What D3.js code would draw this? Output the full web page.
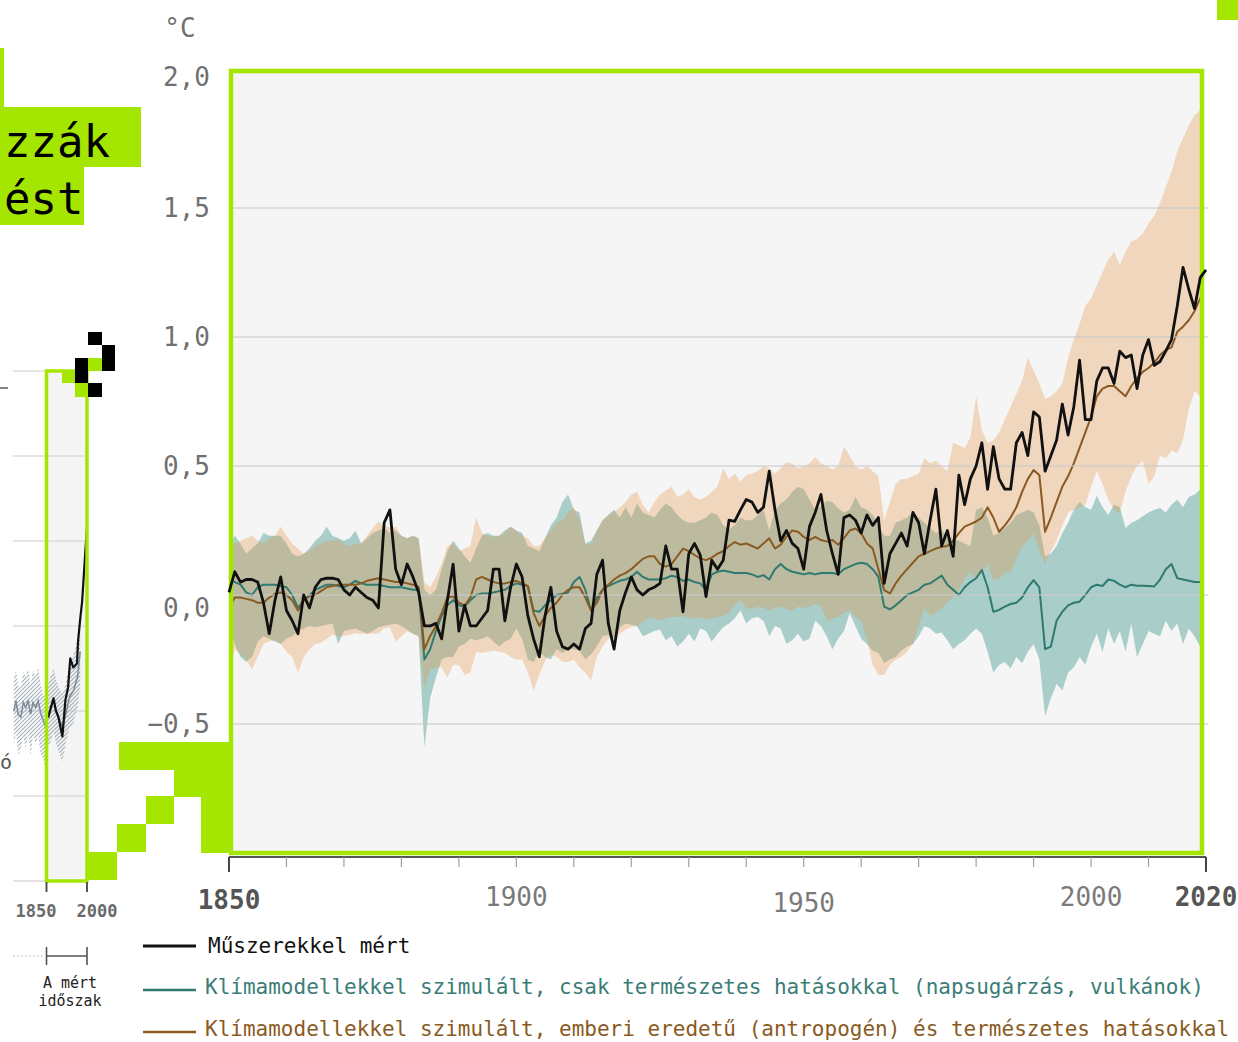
<!DOCTYPE html>
<html><head><meta charset="utf-8">
<script src="https://cdn.jsdelivr.net/npm/d3@7"></script>
<style>
html,body{margin:0;padding:0;background:#fff;}
svg{display:block;font-family:"DejaVu Sans Mono",monospace;}
</style></head><body>
<svg id="chart" width="1238" height="1042"></svg>
<script>
// ---------------- DATA ----------------
const years = d3.range(1850, 2021);

const observed = [
 0.01,0.09,0.05,0.06,0.06,0.05,-0.03,-0.15,-0.02,0.07,
 -0.06,-0.10,-0.15,0.00,-0.05,0.03,0.06,0.065,0.065,0.06,
 0.02,0.00,0.03,0.01,-0.01,-0.02,-0.05,0.28,0.33,0.10,
 0.04,0.12,0.07,0.01,-0.12,-0.12,-0.11,-0.17,-0.02,0.12,
 -0.14,-0.04,-0.12,-0.12,-0.09,-0.06,0.10,0.10,-0.10,0.03,
 0.12,0.07,-0.08,-0.17,-0.24,-0.08,0.03,-0.14,-0.20,-0.21,
 -0.19,-0.21,-0.13,-0.11,0.08,0.135,-0.11,-0.21,-0.06,0.01,
 0.07,0.02,0.00,0.02,0.03,0.045,0.19,0.10,0.10,-0.065,
 0.16,0.20,0.155,-0.006,0.135,0.10,0.135,0.29,0.285,0.33,
 0.37,0.36,0.32,0.34,0.48,0.33,0.21,0.25,0.20,0.18,
 0.10,0.265,0.32,0.39,0.25,0.16,0.08,0.30,0.31,0.29,
 0.24,0.31,0.27,0.30,0.045,0.16,0.20,0.24,0.19,0.32,
 0.28,0.16,0.29,0.41,0.19,0.25,0.15,0.465,0.35,0.45,
 0.50,0.59,0.41,0.575,0.45,0.41,0.41,0.59,0.63,0.54,
 0.71,0.69,0.48,0.54,0.60,0.74,0.62,0.73,0.91,0.68,
 0.68,0.83,0.88,0.88,0.82,0.945,0.92,0.93,0.80,0.93,
 0.99,0.89,0.905,0.945,0.99,1.12,1.27,1.185,1.11,1.23,
 1.26];

const naturalMean = [
 0.06,0.05,0.04,0.01,0.0,0.03,0.04,0.04,0.04,0.035,
 0.03,0.0,-0.05,-0.02,0.0,0.02,0.03,0.04,0.04,0.035,
 0.03,0.04,0.055,0.045,0.04,0.04,0.04,0.035,0.03,0.03,
 0.03,0.025,0.02,0.02,-0.25,-0.21,-0.14,-0.08,-0.04,-0.02,
 -0.04,-0.045,-0.02,0.0,0.006,0.006,0.01,0.015,0.02,0.035,
 0.045,0.04,0.035,-0.06,-0.065,-0.04,-0.02,0.0,0.005,0.01,
 0.05,0.07,0.02,-0.06,-0.01,0.02,0.035,0.045,0.055,0.06,
 0.07,0.09,0.07,0.06,0.06,0.06,0.065,0.075,0.07,0.055,
 0.06,0.05,0.045,0.02,0.08,0.09,0.095,0.09,0.085,0.085,
 0.085,0.08,0.07,0.077,0.06,0.10,0.12,0.10,0.09,0.085,
 0.08,0.085,0.08,0.085,0.085,0.085,0.08,0.10,0.11,0.12,
 0.125,0.12,0.10,0.07,-0.045,-0.056,-0.04,-0.02,0.0,0.01,
 0.02,0.04,0.045,0.06,0.075,0.04,0.02,0.0,0.03,0.05,
 0.065,0.097,0.03,-0.065,-0.058,-0.045,-0.035,-0.03,-0.01,0.03,
 0.058,0.03,-0.21,-0.20,-0.10,-0.065,-0.04,-0.03,-0.026,0.0,
 0.03,0.04,0.035,0.06,0.055,0.04,0.03,0.04,0.036,0.036,
 0.035,0.033,0.06,0.10,0.12,0.065,0.06,0.055,0.05,0.05,
 0.055];

const naturalLow = [
 -0.12,-0.19,-0.24,-0.26,-0.24,-0.18,-0.16,-0.17,-0.18,-0.19,
 -0.17,-0.16,-0.14,-0.13,-0.12,-0.125,-0.12,-0.115,-0.11,-0.19,
 -0.14,-0.135,-0.13,-0.14,-0.15,-0.14,-0.125,-0.12,-0.115,-0.11,
 -0.12,-0.135,-0.15,-0.16,-0.59,-0.40,-0.32,-0.25,-0.24,-0.24,
 -0.20,-0.19,-0.17,-0.175,-0.17,-0.16,-0.18,-0.20,-0.18,-0.17,
 -0.13,-0.17,-0.25,-0.26,-0.22,-0.24,-0.25,-0.21,-0.225,-0.21,
 -0.21,-0.215,-0.25,-0.23,-0.20,-0.16,-0.155,-0.17,-0.125,-0.11,
 -0.115,-0.12,-0.16,-0.15,-0.14,-0.135,-0.175,-0.16,-0.20,-0.18,
 -0.15,-0.18,-0.13,-0.14,-0.18,-0.15,-0.125,-0.11,-0.09,-0.06,
 -0.11,-0.09,-0.085,-0.10,-0.16,-0.12,-0.13,-0.19,-0.175,-0.15,
 -0.18,-0.17,-0.10,-0.12,-0.16,-0.21,-0.17,-0.14,-0.07,-0.12,
 -0.17,-0.19,-0.215,-0.225,-0.265,-0.25,-0.24,-0.215,-0.20,-0.19,
 -0.16,-0.12,-0.13,-0.15,-0.145,-0.175,-0.21,-0.19,-0.175,-0.15,
 -0.13,-0.15,-0.22,-0.30,-0.27,-0.26,-0.285,-0.24,-0.265,-0.22,
 -0.19,-0.25,-0.47,-0.40,-0.345,-0.37,-0.30,-0.28,-0.24,-0.27,
 -0.20,-0.15,-0.22,-0.13,-0.19,-0.14,-0.22,-0.11,-0.24,-0.19,
 -0.14,-0.15,-0.16,-0.10,-0.14,-0.11,-0.19,-0.13,-0.16,-0.20,
 -0.13];

const naturalHigh = [
 0.19,0.23,0.20,0.16,0.18,0.20,0.24,0.23,0.23,0.23,
 0.20,0.16,0.15,0.16,0.18,0.21,0.23,0.265,0.23,0.22,
 0.21,0.22,0.25,0.20,0.22,0.24,0.25,0.26,0.24,0.25,
 0.23,0.22,0.23,0.22,0.02,0.0,0.02,0.10,0.17,0.21,
 0.18,0.15,0.125,0.18,0.23,0.24,0.23,0.23,0.25,0.265,
 0.25,0.24,0.19,0.18,0.17,0.22,0.27,0.30,0.36,0.39,
 0.33,0.32,0.20,0.21,0.25,0.29,0.31,0.33,0.30,0.34,
 0.30,0.355,0.32,0.31,0.30,0.33,0.355,0.34,0.31,0.29,
 0.28,0.28,0.29,0.30,0.32,0.31,0.27,0.255,0.27,0.30,
 0.29,0.29,0.31,0.33,0.25,0.33,0.355,0.37,0.40,0.42,
 0.41,0.37,0.33,0.345,0.365,0.36,0.335,0.32,0.33,0.38,
 0.34,0.33,0.31,0.27,0.23,0.23,0.28,0.29,0.30,0.32,
 0.30,0.28,0.26,0.24,0.25,0.23,0.22,0.21,0.20,0.19,
 0.33,0.34,0.30,0.23,0.24,0.26,0.28,0.31,0.32,0.33,
 0.32,0.27,0.15,0.16,0.19,0.24,0.28,0.33,0.36,0.34,
 0.33,0.385,0.34,0.31,0.35,0.34,0.26,0.28,0.29,0.305,
 0.32,0.33,0.337,0.32,0.35,0.37,0.34,0.38,0.39,0.41,
 0.37];

const humanMean = [
 -0.05,-0.01,-0.01,-0.015,-0.02,-0.03,-0.03,-0.01,0.005,0.01,
 0.0,-0.02,-0.06,-0.02,-0.005,0.0,0.015,0.03,0.035,0.04,
 0.04,0.04,0.04,0.045,0.055,0.06,0.065,0.06,0.055,0.05,
 0.05,0.045,0.04,0.03,-0.21,-0.16,-0.12,-0.07,-0.01,-0.005,
 -0.03,-0.04,-0.01,0.06,0.07,0.06,0.05,0.045,0.045,0.05,
 0.055,0.045,0.035,-0.07,-0.12,-0.08,-0.05,-0.03,0.0,0.02,
 0.03,0.03,-0.01,-0.06,-0.03,0.02,0.04,0.06,0.075,0.085,
 0.10,0.12,0.14,0.15,0.15,0.12,0.11,0.12,0.15,0.18,
 0.17,0.155,0.142,0.135,0.145,0.16,0.17,0.19,0.205,0.195,
 0.20,0.19,0.18,0.20,0.22,0.18,0.195,0.226,0.25,0.245,
 0.225,0.213,0.225,0.213,0.207,0.213,0.195,0.22,0.25,0.258,
 0.24,0.20,0.18,0.10,0.019,0.006,0.045,0.075,0.10,0.125,
 0.15,0.16,0.17,0.18,0.187,0.19,0.21,0.24,0.265,0.275,
 0.285,0.30,0.34,0.30,0.245,0.27,0.30,0.34,0.40,0.45,
 0.484,0.465,0.245,0.30,0.36,0.42,0.46,0.51,0.57,0.63,
 0.69,0.77,0.80,0.81,0.81,0.79,0.77,0.81,0.84,0.865,
 0.88,0.90,0.93,0.95,0.96,1.02,1.04,1.065,1.10,1.15,
 1.19];

const humanLow = [
 -0.29,-0.21,-0.23,-0.25,-0.29,-0.24,-0.19,-0.18,-0.175,-0.19,
 -0.22,-0.24,-0.30,-0.24,-0.21,-0.19,-0.185,-0.17,-0.155,-0.16,
 -0.16,-0.155,-0.148,-0.15,-0.15,-0.15,-0.148,-0.13,-0.125,-0.18,
 -0.16,-0.14,-0.15,-0.16,-0.36,-0.29,-0.28,-0.28,-0.32,-0.27,
 -0.27,-0.31,-0.30,-0.22,-0.225,-0.22,-0.215,-0.22,-0.225,-0.24,
 -0.25,-0.25,-0.30,-0.37,-0.31,-0.255,-0.23,-0.24,-0.26,-0.26,
 -0.25,-0.28,-0.30,-0.33,-0.24,-0.20,-0.17,-0.16,-0.15,-0.135,
 -0.125,-0.12,-0.105,-0.09,-0.09,-0.10,-0.09,-0.085,-0.085,-0.08,
 -0.09,-0.09,-0.085,-0.095,-0.09,-0.085,-0.08,-0.07,-0.04,-0.02,
 -0.05,-0.055,-0.045,-0.05,-0.06,-0.05,-0.045,-0.055,-0.06,-0.045,
 -0.05,-0.045,-0.035,-0.04,-0.10,-0.09,-0.085,-0.07,-0.06,-0.085,
 -0.10,-0.17,-0.27,-0.31,-0.31,-0.27,-0.25,-0.24,-0.22,-0.19,
 -0.12,-0.05,-0.08,-0.07,-0.05,-0.03,-0.006,0.02,0.06,0.09,
 0.06,0.09,0.12,0.06,0.06,0.09,0.085,0.14,0.19,0.21,
 0.24,0.17,0.12,0.17,0.21,0.27,0.32,0.33,0.34,0.35,
 0.42,0.48,0.43,0.37,0.33,0.32,0.40,0.46,0.50,0.52,
 0.43,0.46,0.54,0.53,0.56,0.55,0.60,0.72,0.79,0.77,
 0.78];

const humanHigh = [
 0.17,0.20,0.21,0.22,0.23,0.21,0.20,0.22,0.23,0.265,
 0.23,0.20,0.18,0.16,0.17,0.19,0.20,0.21,0.21,0.215,
 0.20,0.19,0.20,0.20,0.23,0.26,0.285,0.27,0.26,0.265,
 0.23,0.22,0.23,0.22,0.05,0.03,0.07,0.12,0.19,0.20,
 0.17,0.18,0.19,0.30,0.24,0.23,0.225,0.23,0.24,0.265,
 0.25,0.23,0.22,0.19,0.19,0.22,0.25,0.28,0.29,0.32,
 0.34,0.29,0.20,0.195,0.25,0.29,0.31,0.32,0.34,0.36,
 0.39,0.40,0.35,0.32,0.36,0.39,0.405,0.42,0.38,0.39,
 0.41,0.38,0.37,0.38,0.40,0.42,0.49,0.45,0.47,0.44,
 0.465,0.47,0.48,0.50,0.49,0.47,0.49,0.515,0.51,0.49,
 0.50,0.51,0.535,0.51,0.50,0.485,0.50,0.575,0.54,0.50,
 0.485,0.50,0.48,0.46,0.29,0.36,0.43,0.45,0.45,0.46,
 0.47,0.53,0.51,0.52,0.50,0.48,0.59,0.58,0.57,0.61,
 0.77,0.64,0.59,0.60,0.63,0.68,0.73,0.78,0.83,0.92,
 0.87,0.82,0.76,0.77,0.79,0.82,0.92,0.99,1.05,1.12,
 1.15,1.20,1.25,1.30,1.33,1.28,1.33,1.37,1.38,1.40,
 1.44,1.47,1.52,1.58,1.64,1.72,1.77,1.82,1.86,1.88,
 1.90];

const yTickValues = [-0.5, 0, 0.5, 1, 1.5, 2];
const xTickYears = d3.range(1850, 2021, 10);
const xLabelYears = [1850, 1900, 1950, 2000, 2020];
const unitLabel = "°C";

const legendLabels = [
  "Műszerekkel mért",
  "Klímamodellekkel szimulált, csak természetes hatásokkal (napsugárzás, vulkánok)",
  "Klímamodellekkel szimulált, emberi eredetű (antropogén) és természetes hatásokkal"
];

// left (cropped) overview panel
const leftPaleoYears = [1729,1737,1745,1755,1764,1773,1782,1791,1800,1810,1819,1828,1837,1846,1855,1865,1876,1890,1900,1909,1920,1935,1950,1965,1975];
const leftPaleoMean  = [0.0,0.06,-0.02,-0.035,0.05,0.02,0.06,-0.02,0.05,0.02,0.06,-0.01,-0.05,-0.09,-0.02,0.01,0.06,-0.02,-0.06,-0.09,-0.03,0.08,0.12,0.2,0.35];
const leftPaleoLow   = [-0.2,-0.12,-0.26,-0.22,-0.15,-0.22,-0.13,-0.27,-0.14,-0.2,-0.14,-0.25,-0.28,-0.34,-0.22,-0.18,-0.12,-0.22,-0.26,-0.3,-0.2,-0.1,-0.07,0.02,0.15];
const leftPaleoHigh  = [0.19,0.24,0.15,0.14,0.23,0.2,0.25,0.15,0.24,0.2,0.26,0.16,0.1,0.08,0.15,0.2,0.25,0.16,0.12,0.1,0.15,0.28,0.33,0.42,0.56];
const leftObsYears = [1850,1857,1866,1876,1885,1894,1909,1920,1930,1938,1949,1963,1967,1974,1982,1993,2000];
const leftObsVals  = [-0.02,-0.035,0.02,0.075,0.0,-0.035,-0.15,0.064,0.14,0.31,0.256,0.279,0.413,0.529,0.645,0.919,1.08];
const leftGridValues = [-1, -0.5, 0, 0.5, 1, 1.5, 2];
const leftAxisYears = [1850, 2000];
const periodLabel = ["A mért", "időszak"];
const titleFragments = ["zzák", "ést"];

// ---------------- STYLE ----------------
const LIME = "#a5e600";
const C_OBS = "#111111", C_NAT = "#2f7a70", C_HUM = "#8a5a22";
const C_NAT_TXT = "#3a7d76", C_HUM_TXT = "#8a5a22";
const svg = d3.select("#chart");
const defs = svg.append("defs");

// ---------------- MAIN CHART ----------------
const x = d3.scaleLinear().domain([1850, 2020]).range([229, 1206]);
const y = d3.scaleLinear().domain([-1, 2]).range([853, 79]);
const P = {x0: 231, x1: 1202, y0: 71, y1: 853};

defs.append("clipPath").attr("id", "plotClip").append("rect")
  .attr("x", P.x0 + 2).attr("y", P.y0 + 2).attr("width", P.x1 - P.x0 - 4).attr("height", P.y1 - P.y0 - 4);

svg.append("rect").attr("x", P.x0).attr("y", P.y0).attr("width", P.x1 - P.x0).attr("height", P.y1 - P.y0)
  .attr("fill", "#f5f5f5");

const idx = d3.range(years.length);
const band = (lo, hi) => d3.area().x(i => x(years[i])).y0(i => y(lo[i])).y1(i => y(hi[i]));
const line = arr => d3.line().x(i => x(years[i])).y(i => y(arr[i]));

const gc = svg.append("g").attr("clip-path", "url(#plotClip)");
gc.append("path").datum(idx).attr("d", band(naturalLow, naturalHigh)).attr("fill", "#a9cdc9");
gc.append("path").datum(idx).attr("d", band(humanLow, humanHigh)).attr("fill", "#e6984a").attr("fill-opacity", 0.33);

// grid
svg.append("g").selectAll("line").data(yTickValues.filter(v => v < 2)).join("line")
  .attr("x1", P.x0 + 2).attr("x2", 1208).attr("y1", d => y(d)).attr("y2", d => y(d))
  .attr("stroke", "#c9c9c9").attr("stroke-opacity", 0.75).attr("stroke-width", 1.5);

gc.append("path").datum(idx).attr("d", line(naturalMean)).attr("fill", "none")
  .attr("stroke", C_NAT).attr("stroke-width", 2).attr("stroke-linejoin", "round");
gc.append("path").datum(idx).attr("d", line(humanMean)).attr("fill", "none")
  .attr("stroke", C_HUM).attr("stroke-width", 2).attr("stroke-linejoin", "round");

// border
svg.append("rect").attr("x", P.x0).attr("y", P.y0).attr("width", P.x1 - P.x0).attr("height", P.y1 - P.y0)
  .attr("fill", "none").attr("stroke", LIME).attr("stroke-width", 4.5);

svg.append("path").datum(idx).attr("d", line(observed)).attr("fill", "none")
  .attr("stroke", C_OBS).attr("stroke-width", 2.8).attr("stroke-linejoin", "round");

// y labels
const fmt = v => (v < 0 ? "\u2212" : "") + Math.abs(v).toFixed(1).replace(".", ",");
const yNudge = {"0": 13, "2": -2};
svg.append("g").selectAll("text").data(yTickValues).join("text")
  .attr("x", 210).attr("y", d => y(d) + (yNudge[String(d)] || 0))
  .attr("text-anchor", "end").attr("dominant-baseline", "central")
  .attr("font-size", 26).attr("fill", "#707070").text(fmt);
svg.append("text").attr("x", 180).attr("y", 28).attr("text-anchor", "middle")
  .attr("dominant-baseline", "central").attr("font-size", 26).attr("fill", "#707070").text(unitLabel);

// x axis
const AX = 857;
svg.append("line").attr("x1", x(1850)).attr("x2", x(2020)).attr("y1", AX).attr("y2", AX)
  .attr("stroke", "#555").attr("stroke-width", 2);
svg.append("g").selectAll("line").data(xTickYears).join("line")
  .attr("x1", d => x(d)).attr("x2", d => x(d)).attr("y1", AX)
  .attr("y2", d => (d === 1850 || d === 2020) ? AX + 15 : AX + 10)
  .attr("stroke", d => (d === 1850 || d === 2020) ? "#444" : "#a0a0a0")
  .attr("stroke-width", d => (d === 1850 || d === 2020) ? 2 : 1.2);
const xLabelDy = {1850: 3, 1950: 6};
svg.append("g").selectAll("text").data(xLabelYears).join("text")
  .attr("x", d => x(d)).attr("y", d => 897 + (xLabelDy[d] || 0))
  .attr("text-anchor", "middle").attr("dominant-baseline", "central")
  .attr("font-size", 26)
  .attr("font-weight", d => (d === 1850 || d === 2020) ? "bold" : "normal")
  .attr("fill", d => (d === 1850 || d === 2020) ? "#555" : "#7a7a7a")
  .text(d => d);

// legend
const legendColors = [C_OBS, C_NAT, C_HUM];
const legendTextColors = ["#111", C_NAT_TXT, C_HUM_TXT];
const legendY = [946, 990, 1032];
const legendX = [208, 205, 205];
const lg = svg.append("g");
legendLabels.forEach((t, i) => {
  lg.append("line").attr("x1", 143).attr("x2", 196).attr("y1", legendY[i]).attr("y2", legendY[i])
    .attr("stroke", legendColors[i]).attr("stroke-width", i === 0 ? 2.8 : 2.4);
  lg.append("text").attr("x", legendX[i]).attr("y", legendY[i] - (i === 0 ? 0 : 3))
    .attr("dominant-baseline", "central").attr("font-size", 21)
    .attr("fill", legendTextColors[i]).text(t);
});

// ---------------- LEFT PANEL ----------------
const xL = d3.scaleLinear().domain([1850, 2000]).range([46.5, 87]);
const yL = d3.scaleLinear().domain([0, 0.5]).range([711, 626]);
defs.append("clipPath").attr("id", "leftClip").append("rect")
  .attr("x", 13).attr("y", 300).attr("width", 74).attr("height", 600);
const hatch = defs.append("pattern").attr("id", "hatch").attr("patternUnits", "userSpaceOnUse")
  .attr("width", 4).attr("height", 4);
hatch.append("path").attr("d", "M-1,1 L1,-1 M0,4 L4,0 M3,5 L5,3").attr("stroke", "#a4afb9").attr("stroke-width", 1.1);

svg.append("rect").attr("x", xL(1850)).attr("y", yL(2)).attr("width", xL(2000) - xL(1850))
  .attr("height", yL(-1) - yL(2)).attr("fill", "#f4f4f4");
svg.append("g").selectAll("line").data(leftGridValues).join("line")
  .attr("x1", 13).attr("x2", 87).attr("y1", d => yL(d)).attr("y2", d => yL(d))
  .attr("stroke", "#dddddd").attr("stroke-width", 1.5);

const lgc = svg.append("g").attr("clip-path", "url(#leftClip)");
const pIdx = d3.range(leftPaleoYears.length);
lgc.append("path").datum(pIdx)
  .attr("d", d3.area().x(i => xL(leftPaleoYears[i])).y0(i => yL(leftPaleoLow[i])).y1(i => yL(leftPaleoHigh[i])))
  .attr("fill", "url(#hatch)");
lgc.append("path").datum(pIdx)
  .attr("d", d3.line().x(i => xL(leftPaleoYears[i])).y(i => yL(leftPaleoMean[i])))
  .attr("fill", "none").attr("stroke", "#7d8b98").attr("stroke-width", 1.5);
const oIdx = d3.range(leftObsYears.length);
lgc.append("path").datum(oIdx)
  .attr("d", d3.line().x(i => xL(leftObsYears[i])).y(i => yL(leftObsVals[i])))
  .attr("fill", "none").attr("stroke", "#111").attr("stroke-width", 2.2).attr("stroke-linejoin", "round");

svg.append("rect").attr("x", xL(1850)).attr("y", yL(2)).attr("width", xL(2000) - xL(1850))
  .attr("height", yL(-1) - yL(2)).attr("fill", "none").attr("stroke", LIME).attr("stroke-width", 3.5);

// left axis
svg.append("g").selectAll("line").data(leftAxisYears).join("line")
  .attr("x1", d => xL(d)).attr("x2", d => xL(d)).attr("y1", 882).attr("y2", 892)
  .attr("stroke", "#555").attr("stroke-width", 2);
svg.append("g").selectAll("text").data(leftAxisYears).join("text")
  .attr("x", (d, i) => xL(d) + (i === 0 ? -10.5 : 10))
  .attr("y", 911).attr("text-anchor", "middle").attr("dominant-baseline", "central")
  .attr("font-size", 17).attr("font-weight", "bold").attr("fill", "#6a6a6a").text(d => d);

// bracket
svg.append("line").attr("x1", 13).attr("x2", 43).attr("y1", 956).attr("y2", 956)
  .attr("stroke", "#aaa").attr("stroke-width", 1.2).attr("stroke-dasharray", "1.5,2.5");
svg.append("path")
  .attr("d", `M${xL(1850)},947 V965 M${xL(1850)},956 H${xL(2000)} M${xL(2000)},947 V965`)
  .attr("fill", "none").attr("stroke", "#555").attr("stroke-width", 1.6);
svg.append("g").selectAll("text").data(periodLabel).join("text")
  .attr("x", 70).attr("y", (d, i) => 983 + i * 18).attr("text-anchor", "middle")
  .attr("dominant-baseline", "central").attr("font-size", 15).attr("fill", "#222").text(d => d);

// fragments at the left edge
svg.append("text").attr("x", 0).attr("y", 769).attr("font-size", 20).attr("fill", "#555").text("ó");
svg.append("line").attr("x1", 0).attr("x2", 8).attr("y1", 388).attr("y2", 388)
  .attr("stroke", "#666").attr("stroke-width", 1.6);

// ---------------- DECORATION ----------------
const deco = svg.append("g");
const blocks = [
  // [x, y, w, h, color]
  [88, 332, 14, 13, "#000"], [102, 345, 13, 26, "#000"], [75, 358, 13, 25, "#000"], [88, 383, 14, 14, "#000"],
  [88, 358, 14, 13, LIME], [62, 371, 13, 12, LIME], [75, 383, 13, 14, LIME],
  [119, 742, 112, 28, LIME], [174, 769, 57, 28, LIME], [146, 796, 28, 28, LIME],
  [201, 796, 31, 57, LIME], [117, 824, 29, 28, LIME], [88, 852, 29, 28, LIME],
  [1217, 0, 21, 20, LIME],
  [0, 48, 4, 59, LIME], [0, 107, 141, 60, LIME], [0, 167, 84, 58, LIME]
];
deco.selectAll("rect").data(blocks).join("rect")
  .attr("x", d => d[0]).attr("y", d => d[1]).attr("width", d => d[2]).attr("height", d => d[3])
  .attr("fill", d => d[4]);
deco.selectAll("text").data(titleFragments).join("text")
  .attr("x", 4).attr("y", (d, i) => 157 + i * 57).attr("font-size", 44).attr("fill", "#000").text(d => d);
</script>
</body></html>
